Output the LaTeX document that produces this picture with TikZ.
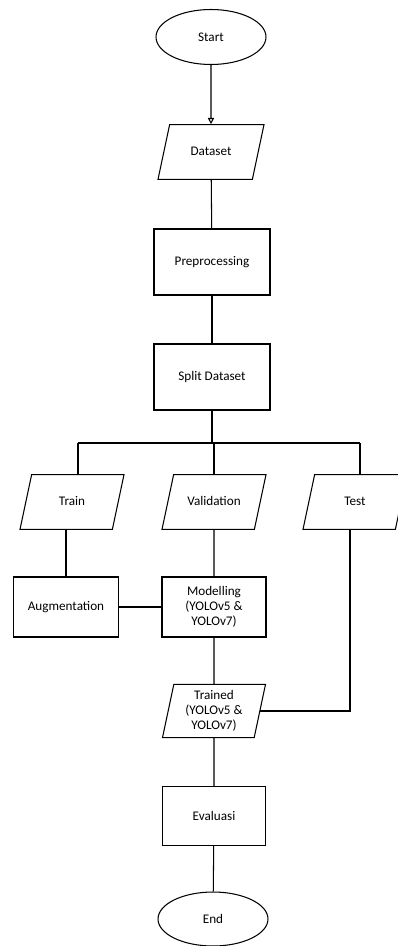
\documentclass[tikz,border=0pt]{standalone}
\usepackage{fontspec}
\setmainfont{Carlito}
\usetikzlibrary{shapes.geometric,arrows.meta}
\tikzset{
  term/.style={ellipse, draw, line width=0.6pt, minimum width=2.2cm, minimum height=1.1cm, inner sep=0pt},
  proc/.style={rectangle, draw, line width=0.6pt, minimum width=2.1cm, minimum height=1.2cm, align=center, inner sep=1pt},
  io/.style={trapezium, trapezium left angle=78, trapezium right angle=102, trapezium stretches body,
    draw, line width=0.6pt, minimum width=2.08cm, inner xsep=1pt, inner ysep=12pt,
    text height=5.5pt, text depth=1.6pt},
  link/.style={line width=0.6pt}
}
\begin{document}
\begin{tikzpicture}[x=0.02cm, y=-0.02cm, font=\fontsize{7.5}{8.5}\selectfont]
            \useasboundingbox (0,0) rectangle (398,946);

            % Draw the main column
            \node[term] (start) at (211,37) {Start};
            \node[io, minimum width=2.12cm] (dataset) at (211,152) {Dataset};
            \node[proc, minimum width=2.32cm, minimum height=1.32cm] (prep) at (212,262) {Preprocessing};
            \node[proc, minimum width=2.32cm, minimum height=1.32cm] (split) at (212,377) {Split Dataset};

            % Draw the three subsets
            \node[io] (train) at (72,502) {Train};
            \node[io] (valid) at (214,502) {Validation};
            \node[io] (test) at (355,502) {Test};

            \node[proc] (aug) at (66,607) {Augmentation};
            \node[proc, minimum width=2.08cm] (model) at (214,607) {Modelling\\(YOLOv5 \&\\YOLOv7)};
            \node[io, minimum width=2.06cm, inner ysep=3.5pt, text height=, text depth=, align=center]
                (trained) at (214,711) {Trained\\(YOLOv5 \&\\YOLOv7)};
            \node[proc, minimum width=2.06cm, minimum height=1.18cm] (eval) at (214,816) {Evaluasi};
            \node[term, minimum height=1.08cm] (end) at (213,919) {End};

            % Draw the connectors
            \draw[link, -{Triangle[open, length=3.5pt, width=3.5pt]}] (start) -- (dataset);
            \foreach \a/\b in {dataset/prep, prep/split, valid/model, model/trained, trained/eval, eval/end} {
                \draw[link] (\a) -- (\b);
            }

            \coordinate (busL) at (78,443);
            \coordinate (busR) at (360,443);
            \draw[link] (split.south) -- (split.south |- busL);
            \draw[link] (busL) -- (busR);
            \draw[link] (busL) -- (busL |- train.north);
            \draw[link] (valid.north |- busL) -- (valid.north);
            \draw[link] (busR) -- (busR |- test.north);

            \draw[link] (train.south -| aug.north) -- (aug.north);
            \draw[link] (aug) -- (model);
            \draw[link] (test.south) ++(-5,0) |- (trained.east);
        \end{tikzpicture}
\end{document}
